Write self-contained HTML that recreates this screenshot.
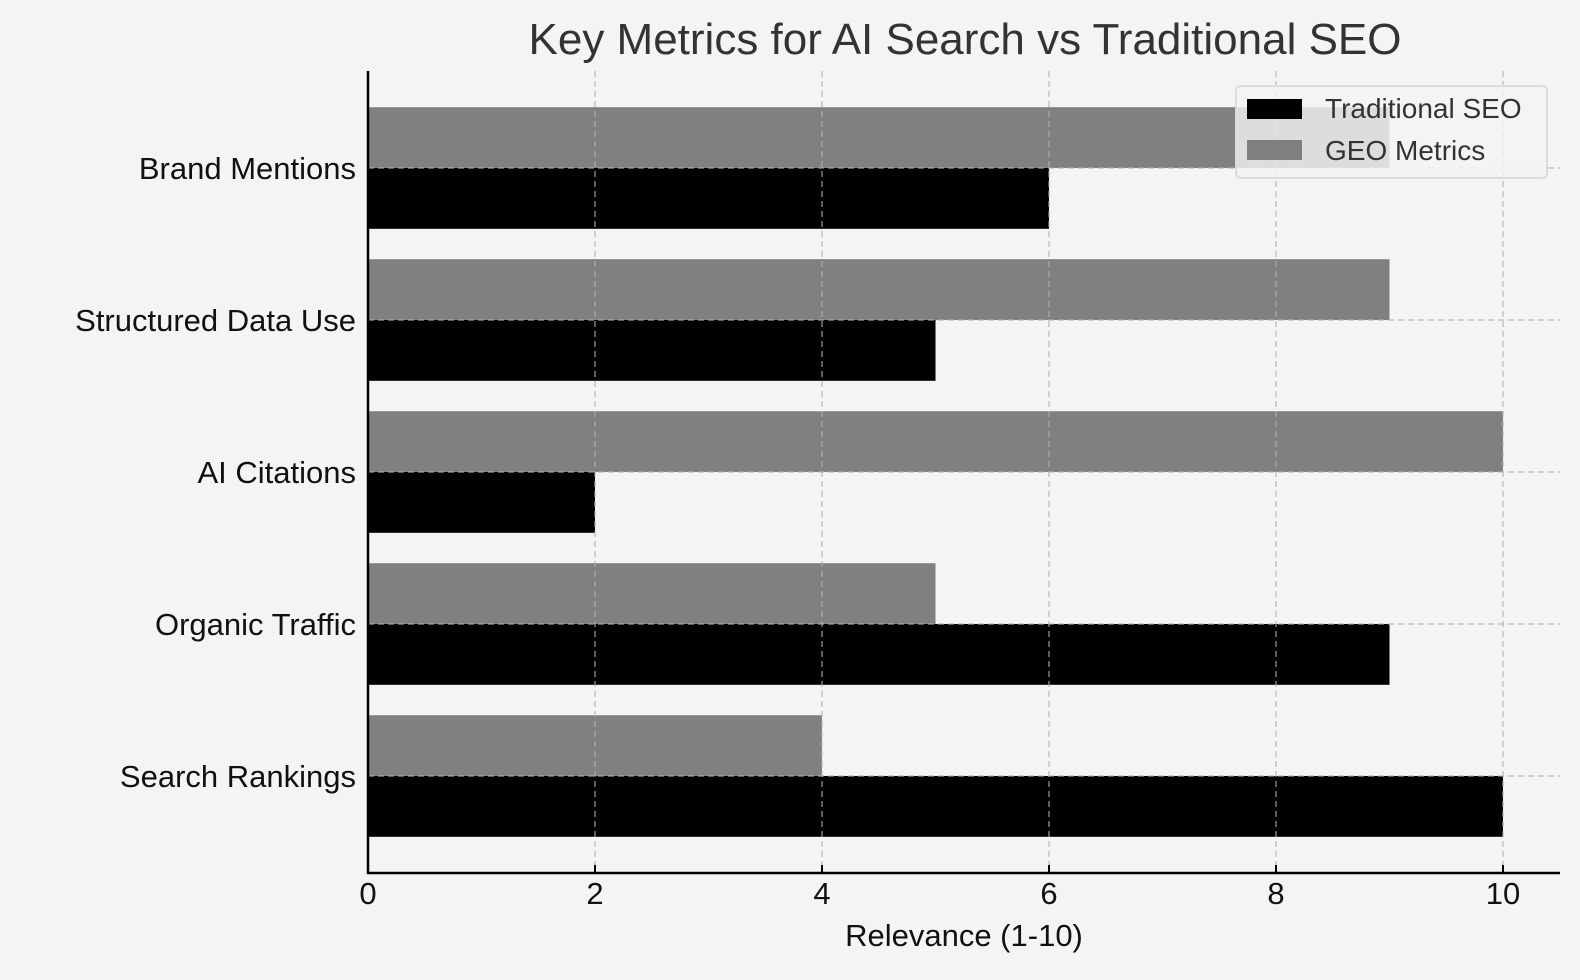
<!DOCTYPE html>
<html><head><meta charset="utf-8"><style>
html,body{margin:0;padding:0;background:#f4f4f4;}
svg{display:block;font-family:"Liberation Sans","DejaVu Sans",sans-serif;}
</style></head><body>
<svg id="chart" width="1580" height="980" viewBox="0 0 1580 980">
<rect width="1580" height="980" fill="#f4f4f4"/>
<text x="965" y="54" font-size="44" fill="#333" text-anchor="middle">Key Metrics for AI Search vs Traditional SEO</text>
<g id="bars"></g><g id="grid"></g><g id="axes"></g>
<g>
<rect x="1236" y="86" width="311" height="92" rx="5" fill="#f4f4f4" fill-opacity="0.8" stroke="#dcdcdc" stroke-width="2"/>
<rect x="1247" y="99" width="55" height="20" fill="#000"/>
<text x="1325" y="118" font-size="28" fill="#333">Traditional SEO</text>
<rect x="1247" y="140" width="55" height="20" fill="#808080"/>
<text x="1325" y="160" font-size="28" fill="#333">GEO Metrics</text>
</g>
</svg>
<script>
const categories = ["Search Rankings","Organic Traffic","AI Citations","Structured Data Use","Brand Mentions"];
const traditional = [10, 9, 2, 5, 6];
const geo = [4, 5, 10, 9, 9];
const xTicks = [0, 2, 4, 6, 8, 10];
const NS = "http://www.w3.org/2000/svg";
const X0 = 368, UX = 113.5, Y0 = 776, UY = 152;
const xs = v => X0 + v * UX;
const ys = i => Y0 - i * UY;
const axBottom = 873, axTop = 71, axRight = 1560;
function mk(tag, attrs, parent){const e=document.createElementNS(NS,tag);for(const k in attrs)e.setAttribute(k,attrs[k]);parent.appendChild(e);return e;}
const bars=document.getElementById('bars'),grid=document.getElementById('grid'),axes=document.getElementById('axes');
const bh = 0.4 * UY;
categories.forEach((c,i)=>{
  const cy=ys(i);
  const g=mk('rect',{x:xs(0),y:cy-bh,width:xs(geo[i])-xs(0),height:bh,fill:'#808080'},bars);
  
  
  const t=mk('rect',{x:xs(0),y:cy,width:xs(traditional[i])-xs(0),height:bh,fill:'#000'},bars);
  
  
  const gl=mk('line',{x1:xs(0),x2:axRight,y1:cy,y2:cy,stroke:'#b0b0b0','stroke-opacity':0.7,'stroke-width':1.5,'stroke-dasharray':'6,4'},grid);
  
  
  const lb=mk('text',{x:356,y:cy+11,'font-size':31,fill:'#111','text-anchor':'end'},axes);
  lb.textContent=c;
  
  
});
xTicks.forEach(v=>{
  const x=xs(v);
  const gl=mk('line',{x1:x,x2:x,y1:axTop,y2:axBottom,stroke:'#b0b0b0','stroke-opacity':0.7,'stroke-width':1.5,'stroke-dasharray':'6,4'},grid);
  
  
  const tk=mk('line',{x1:x,x2:x,y1:axBottom,y2:axBottom-8,stroke:'#000','stroke-width':2},axes);
  
  
  const lb=mk('text',{x:x,y:904,'font-size':31,fill:'#111','text-anchor':'middle'},axes);
  lb.textContent=v;
  
  
});
const ls=mk('line',{x1:X0,x2:X0,y1:axTop,y2:axBottom+1,stroke:'#000','stroke-width':2.5},axes);


const bs=mk('line',{x1:X0-1,x2:axRight,y1:axBottom,y2:axBottom,stroke:'#000','stroke-width':2.5},axes);


const xt=mk('text',{x:964,y:946,'font-size':31,fill:'#111','text-anchor':'middle'},axes);
xt.textContent='Relevance (1-10)';


</script>
</body></html>
